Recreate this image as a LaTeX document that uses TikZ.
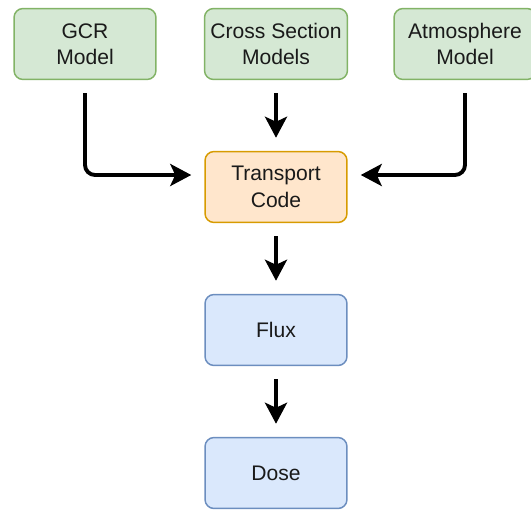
\documentclass[tikz,border=0pt]{standalone}
\usepackage{fontspec}
\setmainfont{Liberation Sans}
\usetikzlibrary{arrows.meta}
\definecolor{inputfill}{HTML}{D5E8D4}
\definecolor{inputline}{HTML}{82B366}
\definecolor{codefill}{HTML}{FFE6CC}
\definecolor{codeline}{HTML}{D79B00}
\definecolor{outfill}{HTML}{DAE8FC}
\definecolor{outline}{HTML}{6C8EBF}
\definecolor{textdark}{HTML}{1A1A1A}

\begin{document}
\begin{tikzpicture}[x=0.02cm, y=-0.02cm, >={Stealth[length=0.42cm, width=0.44cm, inset=0.1cm]},
    box/.style={draw, line width=0.85pt, rounded corners=0.18cm, minimum width=2.84cm, minimum height=1.42cm,
        align=center, text=textdark, font=\fontsize{12}{15}\selectfont},
    inbox/.style={box, fill=inputfill, draw=inputline},
    codebox/.style={box, fill=codefill, draw=codeline},
    outbox/.style={box, fill=outfill, draw=outline},
    flow/.style={->, line width=2.2pt, shorten <=0.26cm, shorten >=0.26cm, rounded corners=0.2cm}]
    \useasboundingbox (0,0) rectangle (531,510);

    % Input models
    \node[inbox] (gcr) at (85,44) {GCR\\Model};
    \node[inbox] (xsec) at (276,44) {Cross Section\\Models};
    \node[inbox] (atmo) at (465,44) {Atmosphere\\Model};

    % Transport and outputs
    \node[codebox] (trans) at (276,187) {Transport\\Code};
    \node[outbox] (flux) at (276,330) {Flux};
    \node[outbox] (dose) at (276,473) {Dose};

    % Connectors
    \draw[flow] (gcr.south) |- ([yshift=0.24cm]trans.west);
    \draw[flow] (xsec.south) -- (trans.north);
    \draw[flow] (atmo.south) |- ([yshift=0.24cm]trans.east);
    \draw[flow] (trans.south) -- (flux.north);
    \draw[flow] (flux.south) -- (dose.north);
\end{tikzpicture}
\end{document}
